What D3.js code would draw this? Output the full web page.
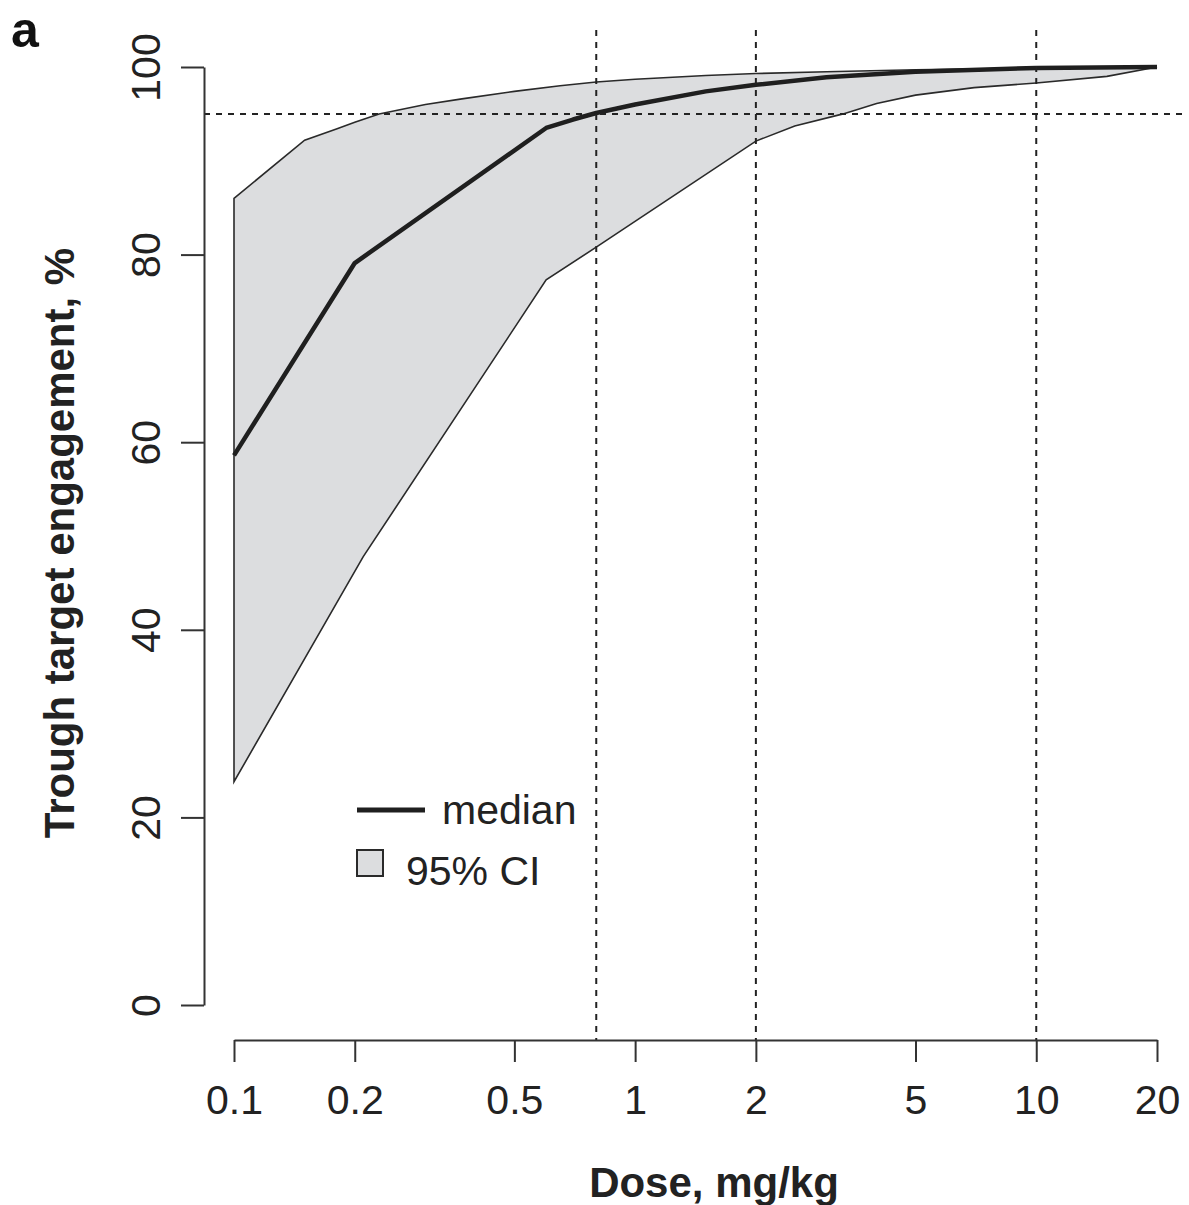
<!DOCTYPE html>
<html>
<head>
<meta charset="utf-8">
<script src="https://cdn.jsdelivr.net/npm/d3@7"></script>
<style>
  body { margin: 0; background: #fff; }
  svg { font-family: "Liberation Sans", Arial, sans-serif; }
</style>
</head>
<body>
<svg id="chart" width="1189" height="1205"></svg>
<script>
// values (dose mg/kg, engagement %)
const upperDose = [0.1, 0.15, 0.18, 0.2, 0.23, 0.3, 0.37, 0.5, 0.65, 0.8, 1, 1.5, 2, 3, 5, 10, 20];
const upperVal = [86.0, 92.2, 93.4, 94.1, 95.0, 96.0, 96.6, 97.4, 98.0, 98.4, 98.7, 99.1, 99.3, 99.5, 99.7, 99.9, 100];
const medianDose = [0.1, 0.2, 0.6, 0.7, 0.8, 1, 1.5, 2, 3, 5, 10, 20];
const medianVal = [58.6, 79.1, 93.5, 94.4, 95.1, 96.0, 97.4, 98.1, 98.9, 99.5, 99.9, 100];
const lowerDose = [0.1, 0.21, 0.6, 0.8, 2, 2.5, 3.3, 4, 5, 7, 10, 15, 20];
const lowerVal = [23.8, 47.8, 77.3, 80.8, 92.1, 93.7, 95.0, 96.1, 97.0, 97.8, 98.3, 99.0, 100];
const xTicks = [0.1, 0.2, 0.5, 1, 2, 5, 10, 20];
const yTicks = [0, 20, 40, 60, 80, 100];
const refDoses = [0.8, 2, 10];
const refLevel = 95;

const svg = d3.select("#chart");
const x = d3.scaleLog().domain([0.1, 20]).range([234, 1157]);
const y = d3.scaleLinear().domain([0, 100]).range([1005, 67]);

const upper = upperDose.map((d, i) => ({ d: d, v: upperVal[i] }));
const median = medianDose.map((d, i) => ({ d: d, v: medianVal[i] }));
const lower = lowerDose.map((d, i) => ({ d: d, v: lowerVal[i] }));

const line = d3.line().x((p) => x(p.d)).y((p) => y(p.v));

// CI band: upper edge left->right, then lower edge back
svg.append("path")
  .attr("d", line(upper) + "L" + line(lower.slice().reverse()).slice(1) + "Z")
  .attr("fill", "#dcdddf")
  .attr("stroke", "#2a2a2a")
  .attr("stroke-width", 1.6)
  .attr("stroke-linejoin", "miter");

svg.append("path")
  .attr("d", line(median))
  .attr("fill", "none")
  .attr("stroke", "#1f1f1f")
  .attr("stroke-width", 4.5)
  .attr("stroke-linejoin", "round");

// reference lines
const dash = "6,6";
svg.append("g")
  .selectAll("line")
  .data(refDoses)
  .join("line")
  .attr("x1", (d) => x(d))
  .attr("x2", (d) => x(d))
  .attr("y1", 30)
  .attr("y2", 1040)
  .attr("stroke", "#222")
  .attr("stroke-width", 2)
  .attr("stroke-dasharray", dash);
svg.append("line")
  .attr("x1", 204).attr("x2", 1186)
  .attr("y1", y(refLevel)).attr("y2", y(refLevel))
  .attr("stroke", "#222")
  .attr("stroke-width", 2)
  .attr("stroke-dasharray", dash);

// axes
const xAxis = svg.append("g")
  .attr("transform", "translate(0,1040)")
  .call(d3.axisBottom(x).tickValues(xTicks).tickFormat((d) => String(d)).tickSize(22).tickSizeOuter(0));
xAxis.select(".domain").attr("stroke", "#333").attr("stroke-width", 2);
xAxis.selectAll(".tick line").attr("stroke", "#333").attr("stroke-width", 2);
xAxis.selectAll(".tick text")
  .attr("y", 74)
  .attr("dy", 0)
  .style("font-size", "41px")
  .attr("fill", "#222");

const yAxis = svg.append("g")
  .attr("transform", "translate(204,0)")
  .call(d3.axisLeft(y).tickValues(yTicks).tickSize(23).tickSizeOuter(0));
yAxis.select(".domain").attr("stroke", "#333").attr("stroke-width", 2);
yAxis.selectAll(".tick line").attr("stroke", "#333").attr("stroke-width", 2);
yAxis.selectAll(".tick text")
  .attr("x", 0)
  .attr("dy", 0)
  .attr("transform", "translate(-44,0) rotate(-90)")
  .style("text-anchor", "middle")
  .style("font-size", "41px")
  .attr("fill", "#222");

// titles
svg.append("text")
  .attr("x", 714).attr("y", 1197)
  .attr("text-anchor", "middle")
  .style("font-size", "42px")
  .style("font-weight", "bold")
  .attr("fill", "#222")
  .text("Dose, mg/kg");
svg.append("text")
  .attr("transform", "translate(74,543) rotate(-90)")
  .attr("text-anchor", "middle")
  .style("font-size", "42px")
  .style("font-weight", "bold")
  .attr("fill", "#222")
  .text("Trough target engagement, %");
svg.append("text")
  .attr("x", 11).attr("y", 47)
  .style("font-size", "50px")
  .style("font-weight", "bold")
  .attr("fill", "#111")
  .text("a");

// legend
const leg = svg.append("g");
leg.append("line")
  .attr("x1", 357).attr("x2", 425)
  .attr("y1", 810).attr("y2", 810)
  .attr("stroke", "#1f1f1f")
  .attr("stroke-width", 5);
leg.append("text")
  .attr("x", 442).attr("y", 824)
  .style("font-size", "41px")
  .attr("fill", "#222")
  .text("median");
leg.append("rect")
  .attr("x", 357).attr("y", 850)
  .attr("width", 26).attr("height", 26)
  .attr("fill", "#dcdddf")
  .attr("stroke", "#2a2a2a")
  .attr("stroke-width", 2);
leg.append("text")
  .attr("x", 406).attr("y", 885)
  .style("font-size", "41px")
  .attr("fill", "#222")
  .text("95% CI");
</script>
</body>
</html>
